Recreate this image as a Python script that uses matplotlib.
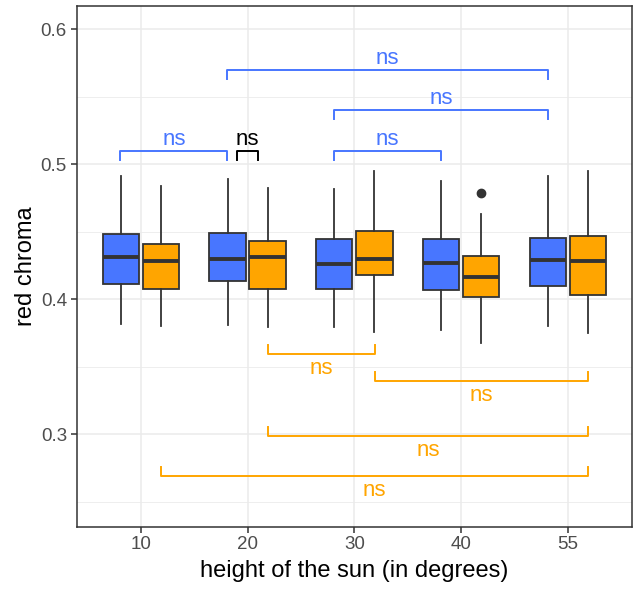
import matplotlib
matplotlib.use("Agg")
import matplotlib.pyplot as plt
import numpy as np

plt.rcParams['font.family'] = ['Liberation Sans', 'DejaVu Sans']

# data
heights = ["10", "20", "30", "40", "55"]
# per height: (whisker low, Q1, median, Q3, whisker high)
blue_stats = [
    (0.3815, 0.4111, 0.4311, 0.4481, 0.4911),
    (0.3811, 0.4135, 0.4296, 0.4489, 0.4894),
    (0.3793, 0.4079, 0.4259, 0.4448, 0.4816),
    (0.3770, 0.4072, 0.4272, 0.4448, 0.4876),
    (0.3806, 0.4099, 0.4289, 0.4454, 0.4911),
]
orange_stats = [
    (0.3806, 0.4076, 0.4283, 0.4409, 0.4839),
    (0.3793, 0.4074, 0.4316, 0.4431, 0.4824),
    (0.3758, 0.4178, 0.4296, 0.4507, 0.4948),
    (0.3676, 0.4017, 0.4165, 0.4324, 0.4634),
    (0.3748, 0.4030, 0.4283, 0.4467, 0.4948),
]
orange_outliers = [[], [], [], [0.4790], []]

# comparisons: (group a, offset a, group b, offset b, y, colour, side)
BLUE = "#4876FF"
ORANGE = "#FFA500"
comparisons = [
    (0, -0.19, 1, -0.19, 0.5096, BLUE, "up"),
    (1, -0.1, 1, 0.1, 0.5096, "black", "up"),
    (2, -0.19, 3, -0.19, 0.5096, BLUE, "up"),
    (2, -0.19, 4, -0.19, 0.5400, BLUE, "up"),
    (1, -0.19, 4, -0.19, 0.5696, BLUE, "up"),
    (1, 0.19, 2, 0.19, 0.3593, ORANGE, "down"),
    (2, 0.19, 4, 0.19, 0.3393, ORANGE, "down"),
    (1, 0.19, 4, 0.19, 0.2990, ORANGE, "down"),
    (0, 0.19, 4, 0.19, 0.2691, ORANGE, "down"),
]


def make_stats(stats, outliers=None):
    out = []
    for i, (lo, q1, med, q3, hi) in enumerate(stats):
        out.append(dict(whislo=lo, q1=q1, med=med, q3=q3, whishi=hi,
                        fliers=outliers[i] if outliers else []))
    return out


fig = plt.figure(figsize=(6.4, 5.92), dpi=100)
ax = fig.add_axes([0.1198, 0.1103, 0.8677, 0.880])

pos = np.arange(len(heights))
edge = "#333333"
for stats, off, col, outl in [(blue_stats, -0.1875, BLUE, None),
                              (orange_stats, 0.1875, ORANGE, orange_outliers)]:
    ax.bxp(make_stats(stats, outl), positions=pos + off, widths=0.34,
           showcaps=False, patch_artist=True, manage_ticks=False,
           boxprops=dict(facecolor=col, edgecolor=edge, linewidth=1.3),
           whiskerprops=dict(color=edge, linewidth=1.3),
           medianprops=dict(color=edge, linewidth=2.8, solid_capstyle="butt"),
           flierprops=dict(marker="o", markerfacecolor=edge,
                           markeredgecolor=edge, markersize=6),
           zorder=3)

tick = 0.0067
for a, oa, b, ob, y, col, side in comparisons:
    x1, x2 = a + oa, b + ob
    if side == "up":
        ax.plot([x1, x1, x2, x2], [y - tick, y, y, y - tick], color=col,
                lw=1.4, zorder=4)
        ax.text((x1 + x2) / 2, y + 0.0090, "ns", color=col, fontsize=16,
                ha="center", va="center", zorder=5)
    else:
        ax.plot([x1, x1, x2, x2], [y + tick, y, y, y + tick], color=col,
                lw=1.4, zorder=4)
        ax.text((x1 + x2) / 2, y - 0.0108, "ns", color=col, fontsize=16,
                ha="center", va="center", zorder=5)

ax.set_xlim(-0.6, 4.6)
ax.set_ylim(0.2316, 0.6175)
ax.set_xticks(pos)
ax.set_xticklabels(heights)
ax.set_yticks([0.3, 0.4, 0.5, 0.6])
ax.set_yticklabels(["0.3", "0.4", "0.5", "0.6"])
ax.set_yticks([0.25, 0.35, 0.45, 0.55], minor=True)
ax.grid(True, which="major", color="#EBEBEB", lw=1.1, zorder=0)
ax.grid(True, which="minor", axis="y", color="#EBEBEB", lw=0.6, zorder=0)
ax.set_axisbelow(True)
ax.tick_params(axis="both", which="major", colors="#333333", length=4,
               width=1.1, labelsize=13.5, labelcolor="#4D4D4D", pad=3)
ax.tick_params(axis="y", which="minor", length=0)
for s in ax.spines.values():
    s.set_color("#333333")
    s.set_linewidth(1.1)

ax.set_xlabel("height of the sun (in degrees)", fontsize=17, labelpad=5)
ax.set_ylabel("red chroma", fontsize=17, labelpad=3)

fig.savefig("out.png", dpi=100)
